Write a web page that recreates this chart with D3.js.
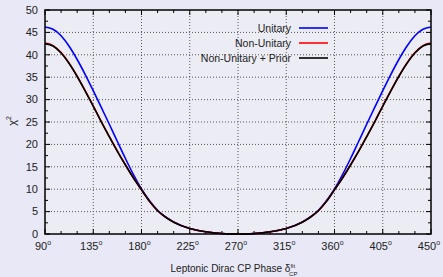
<!DOCTYPE html>
<html>
<head>
<meta charset="utf-8">
<script src="https://cdn.jsdelivr.net/npm/d3@7"></script>
<style>
  body { margin: 0; background: #e8e8f6; }
  svg { display: block; font-family: "Liberation Sans", Arial, sans-serif; }
</style>
</head>
<body>
<div id="chart"></div>
<script>
// CP phase grid (degrees) and chi^2 profiles
const phases = [90, 97.5, 105, 112.5, 120, 127.5, 135, 142.5, 150, 157.5, 165, 172.5, 180,
                187.5, 195, 202.5, 210, 225, 240, 255, 270,
                285, 300, 315, 330, 337.5, 345, 352.5, 360, 367.5, 375, 382.5, 390,
                397.5, 405, 412.5, 420, 427.5, 435, 442.5, 450];
const unitary = [46.2, 45.7, 44.25, 41.9, 38.95, 35.6, 32.0, 28.25, 24.5, 20.65, 16.85, 13.25, 10.05,
                 7.4, 5.3, 3.8, 2.7, 1.25, 0.5, 0.12, 0,
                 0.12, 0.5, 1.25, 2.7, 3.8, 5.3, 7.4, 10.05, 13.25, 16.85, 20.65, 24.5,
                 28.25, 32.0, 35.6, 38.95, 41.9, 44.25, 45.7, 46.2];
const nonUnitary = [42.6, 42.05, 40.5, 38.15, 35.25, 32.0, 28.6, 25.1, 21.75, 18.5, 15.45, 12.55, 9.9,
                    7.3, 5.2, 3.75, 2.65, 1.22, 0.49, 0.12, 0,
                    0.12, 0.49, 1.22, 2.65, 3.75, 5.2, 7.3, 9.9, 12.55, 15.45, 18.5, 21.75,
                    25.1, 28.6, 32.0, 35.25, 38.15, 40.5, 42.05, 42.6];
const nonUnitaryPrior = [42.5, 41.95, 40.4, 38.05, 35.15, 31.9, 28.5, 25.05, 21.7, 18.45, 15.4, 12.5, 9.85,
                         7.28, 5.18, 3.74, 2.64, 1.21, 0.49, 0.12, 0,
                         0.12, 0.49, 1.21, 2.64, 3.74, 5.18, 7.28, 9.85, 12.5, 15.4, 18.45, 21.7,
                         25.05, 28.5, 31.9, 35.15, 38.05, 40.4, 41.95, 42.5];
const xTicks = [90, 135, 180, 225, 270, 315, 360, 405, 450];
const yTicks = [0, 5, 10, 15, 20, 25, 30, 35, 40, 45, 50];
const seriesNames = ['Unitary', 'Non-Unitary', 'Non-Unitary + Prior'];
const seriesColors = ['#0000ff', '#ff0000', '#000000'];

const width = 443, height = 277;
const margin = { top: 10, right: 12, bottom: 43, left: 45 };
const innerW = width - margin.left - margin.right;
const innerH = height - margin.top - margin.bottom;

const svg = d3.select('#chart').append('svg')
  .attr('width', width)
  .attr('height', height);

svg.append('rect').attr('width', width).attr('height', height).attr('fill', '#e8e8f6');

const g = svg.append('g').attr('transform', `translate(${margin.left},${margin.top})`);

const x = d3.scaleLinear().domain([90, 450]).range([0, innerW]);
const y = d3.scaleLinear().domain([0, 50]).range([innerH, 0]);

g.append('rect').attr('width', innerW).attr('height', innerH).attr('fill', '#ececf4');

// dotted grid
g.append('g').selectAll('line')
  .data(xTicks.slice(1, -1))
  .join('line')
  .attr('x1', d => x(d)).attr('x2', d => x(d))
  .attr('y1', 0).attr('y2', innerH)
  .attr('stroke', '#555').attr('stroke-width', 1).attr('stroke-dasharray', '1,2');
g.append('g').selectAll('line')
  .data(yTicks.slice(1, -1))
  .join('line')
  .attr('y1', d => y(d)).attr('y2', d => y(d))
  .attr('x1', 0).attr('x2', innerW)
  .attr('stroke', '#555').attr('stroke-width', 1).attr('stroke-dasharray', '1,2');

// inward ticks on all four sides
const xMinor = d3.range(90, 451, 15);
const yMinor = d3.range(0, 50.1, 2.5);
const tickG = g.append('g').attr('stroke', '#000').attr('stroke-width', 1);
xMinor.forEach(v => {
  const len = xTicks.includes(v) ? 5 : 3;
  tickG.append('line').attr('x1', x(v)).attr('x2', x(v)).attr('y1', innerH).attr('y2', innerH - len);
  tickG.append('line').attr('x1', x(v)).attr('x2', x(v)).attr('y1', 0).attr('y2', len);
});
yMinor.forEach(v => {
  const len = yTicks.includes(v) ? 5 : 3;
  tickG.append('line').attr('y1', y(v)).attr('y2', y(v)).attr('x1', 0).attr('x2', len);
  tickG.append('line').attr('y1', y(v)).attr('y2', y(v)).attr('x1', innerW).attr('x2', innerW - len);
});

// curves
const line = d3.line()
  .x((d, i) => x(phases[i]))
  .y(d => y(d))
  .curve(d3.curveMonotoneX);

[unitary, nonUnitary, nonUnitaryPrior].forEach((s, i) => {
  g.append('path')
    .datum(s)
    .attr('fill', 'none')
    .attr('stroke', seriesColors[i])
    .attr('stroke-width', 1.6)
    .attr('d', line);
});

// frame
g.append('rect').attr('width', innerW).attr('height', innerH)
  .attr('fill', 'none').attr('stroke', '#000').attr('stroke-width', 1.5);

// y tick labels
g.append('g').selectAll('text')
  .data(yTicks)
  .join('text')
  .attr('x', -7).attr('y', d => y(d))
  .attr('dy', '0.35em')
  .attr('text-anchor', 'end')
  .attr('font-size', 11)
  .attr('fill', '#222')
  .text(d => d);

// x tick labels with degree superscript
const xl = g.append('g').selectAll('text')
  .data(xTicks)
  .join('text')
  .attr('x', d => x(d) - 2).attr('y', innerH + 16)
  .attr('text-anchor', 'middle')
  .attr('font-size', 11)
  .attr('fill', '#222');
xl.append('tspan').text(d => d);
xl.append('tspan').attr('dy', -5).attr('font-size', 7).text('o');

// axis titles
const yt = svg.append('text')
  .attr('transform', `translate(16,121) rotate(-90)`)
  .attr('text-anchor', 'middle')
  .attr('font-size', 11)
  .attr('fill', '#222');
yt.append('tspan').text('χ');
yt.append('tspan').attr('dy', -5).attr('font-size', 7).text('2');

const xt = svg.append('text')
  .attr('x', margin.left + innerW / 2 - 4).attr('y', 272)
  .attr('text-anchor', 'middle')
  .attr('font-size', 10)
  .attr('fill', '#222');
xt.append('tspan').text('Leptonic Dirac CP Phase δ');
xt.append('tspan').attr('dy', -4.5).attr('font-size', 6).text('fit');
xt.append('tspan').attr('dx', -6).attr('dy', 8.5).attr('font-size', 6).text('CP');

// legend
const legend = svg.append('g');
seriesNames.forEach((name, i) => {
  const ly = 28 + i * 15;
  legend.append('text')
    .attr('x', 291).attr('y', ly).attr('dy', '0.35em')
    .attr('text-anchor', 'end')
    .attr('font-size', 10.5)
    .attr('fill', '#222')
    .text(name);
  legend.append('line')
    .attr('x1', 299).attr('x2', 328)
    .attr('y1', ly).attr('y2', ly)
    .attr('stroke', seriesColors[i]).attr('stroke-width', 1.6);
});
</script>
</body>
</html>
